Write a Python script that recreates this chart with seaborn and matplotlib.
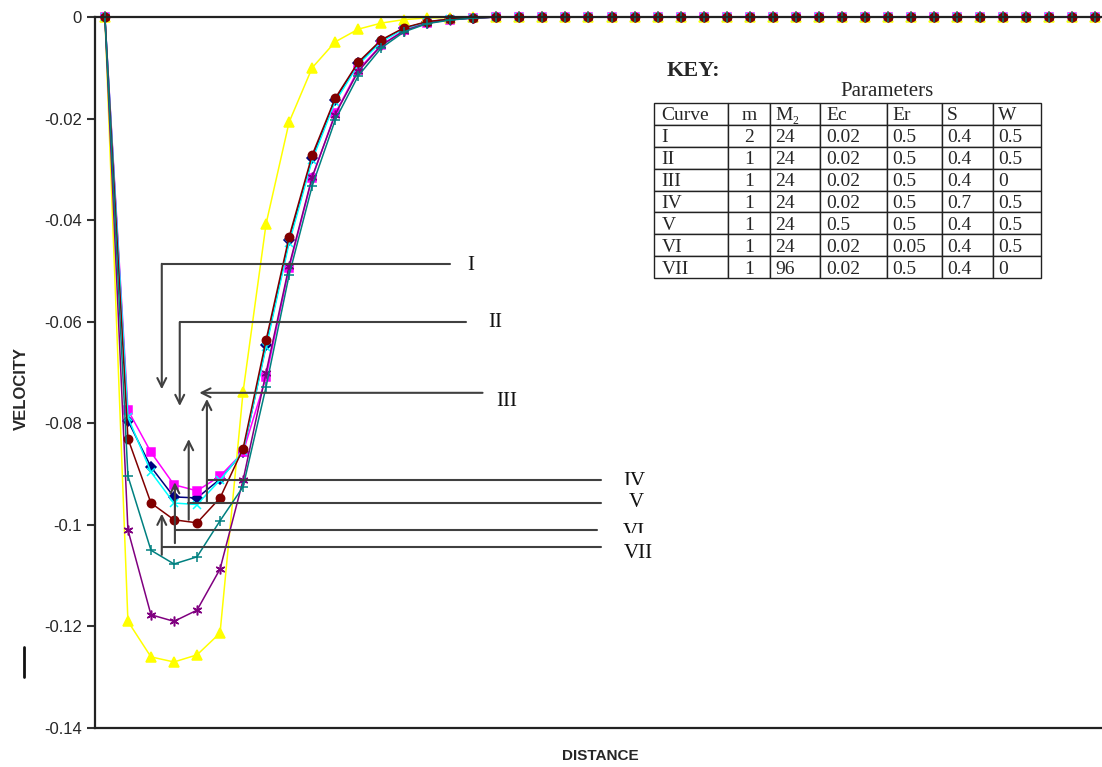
import numpy as np
import pandas as pd
import seaborn as sns
import matplotlib.pyplot as plt
from matplotlib.lines import Line2D
from matplotlib.patches import Rectangle

# velocity profiles (one value per distance step)
vel_navy = [0, -0.0795, -0.0886, -0.0945, -0.0947, -0.0910, -0.0857, -0.0646, -0.0439, -0.0278,
            -0.0163, -0.0091, -0.0047, -0.0022, -0.0010, -0.0004, -0.0002, 0, 0, 0,
            0, 0, 0, 0, 0, 0, 0, 0, 0, 0, 0, 0, 0, 0, 0, 0, 0, 0, 0, 0, 0, 0, 0, 0]
vel_magenta = [0, -0.0774, -0.0857, -0.0921, -0.0933, -0.0904, -0.0857, -0.0709, -0.0494, -0.0317,
               -0.0190, -0.0104, -0.0055, -0.0026, -0.0012, -0.0005, -0.0002, 0, 0, 0,
               0, 0, 0, 0, 0, 0, 0, 0, 0, 0, 0, 0, 0, 0, 0, 0, 0, 0, 0, 0, 0, 0, 0, 0]
vel_yellow = [0, -0.1190, -0.1260, -0.1270, -0.1256, -0.1213, -0.0738, -0.0407, -0.0207, -0.0100,
              -0.0049, -0.0024, -0.0012, -0.0005, -0.0002, -0.0001, 0, 0, 0, 0,
              0, 0, 0, 0, 0, 0, 0, 0, 0, 0, 0, 0, 0, 0, 0, 0, 0, 0, 0, 0, 0, 0, 0, 0]
vel_cyan = [0, -0.0788, -0.0896, -0.0957, -0.0960, -0.0912, -0.0855, -0.0650, -0.0445, -0.0282,
            -0.0167, -0.0094, -0.0049, -0.0023, -0.0010, -0.0004, -0.0002, 0, 0, 0,
            0, 0, 0, 0, 0, 0, 0, 0, 0, 0, 0, 0, 0, 0, 0, 0, 0, 0, 0, 0, 0, 0, 0, 0]
vel_purple = [0, -0.1010, -0.1177, -0.1190, -0.1168, -0.1087, -0.0912, -0.0700, -0.0490, -0.0315,
              -0.0192, -0.0107, -0.0056, -0.0027, -0.0012, -0.0005, -0.0002, 0, 0, 0,
              0, 0, 0, 0, 0, 0, 0, 0, 0, 0, 0, 0, 0, 0, 0, 0, 0, 0, 0, 0, 0, 0, 0, 0]
vel_darkred = [0, -0.0830, -0.0957, -0.0990, -0.0996, -0.0947, -0.0850, -0.0636, -0.0433, -0.0272,
               -0.0160, -0.0089, -0.0045, -0.0021, -0.0009, -0.0004, -0.0002, 0, 0, 0,
               0, 0, 0, 0, 0, 0, 0, 0, 0, 0, 0, 0, 0, 0, 0, 0, 0, 0, 0, 0, 0, 0, 0, 0]
vel_teal = [0, -0.0904, -0.1050, -0.1077, -0.1063, -0.0992, -0.0925, -0.0728, -0.0508, -0.0333,
            -0.0203, -0.0116, -0.0061, -0.0029, -0.0013, -0.0006, -0.0002, 0, 0, 0,
            0, 0, 0, 0, 0, 0, 0, 0, 0, 0, 0, 0, 0, 0, 0, 0, 0, 0, 0, 0, 0, 0, 0, 0]
distance = np.arange(len(vel_navy))

y_ticks = [0, -0.02, -0.04, -0.06, -0.08, -0.1, -0.12, -0.14]
y_ticklabels = ['0', '-0.02', '-0.04', '-0.06', '-0.08', '-0.1', '-0.12', '-0.14']

curve_names = ['I', 'II', 'III', 'IV', 'V', 'VI', 'VII']
key_columns = ['Curve', 'm', 'M\u2082', 'Ec', 'Er', 'S', 'W']
key_m = ['2', '1', '1', '1', '1', '1', '1']
key_M2 = ['24', '24', '24', '24', '24', '24', '96']
key_Ec = ['0.02', '0.02', '0.02', '0.02', '0.5', '0.02', '0.02']
key_Er = ['0.5', '0.5', '0.5', '0.5', '0.5', '0.05', '0.5']
key_S = ['0.4', '0.4', '0.4', '0.7', '0.4', '0.4', '0.4']
key_W = ['0.5', '0.5', '0', '0.5', '0.5', '0.5', '0']

# ====
# plot
# ====

sns.set_theme(style='ticks')
plt.rcParams['font.family'] = ['Liberation Sans', 'DejaVu Sans']
serif = ['Liberation Serif', 'DejaVu Serif']

fig = plt.figure(figsize=(11.02, 7.67), dpi=100)
ax = fig.add_axes([95 / 1102, 1 - 728 / 767, 1007 / 1102, 711 / 767])

series = [
    (vel_navy, '#000080', 'D', 5.5),
    (vel_magenta, '#FF00FF', 's', 6),
    (vel_yellow, '#FFFF00', '^', 7),
    (vel_cyan, '#00FFFF', 'x', 6),
    (vel_purple, '#800080', (6, 2, 0), 7),
    (vel_darkred, '#800000', 'o', 6),
    (vel_teal, '#008080', '+', 7),
]
for vals, col, mk, ms in series:
    sns.lineplot(x=distance, y=vals, color=col, marker=mk, markersize=ms,
                 markeredgecolor=col, markerfacecolor=col, markeredgewidth=1.1,
                 linewidth=1.1, clip_on=False, ax=ax)

ax.set_xlim(-0.43, 43.3)
ax.set_ylim(-0.14, 0)
ax.set_yticks(y_ticks)
ax.set_yticklabels(y_ticklabels)
ax.set_xticks([])
ax.tick_params(axis='y', length=6, width=1.5, labelsize=12, color='#333333')
for side in ['top', 'bottom', 'left']:
    ax.spines[side].set_linewidth(1.6)
    ax.spines[side].set_color('#222222')
ax.spines['right'].set_visible(False)

ax.set_ylabel('VELOCITY', fontsize=12, fontweight='bold')
ax.yaxis.set_label_coords(-0.066, 0.478)
ax.set_xlabel('DISTANCE', fontsize=11, fontweight='bold')
ax.xaxis.set_label_coords(0.5015, -0.029)

# curve call-outs
arrow_kw = dict(arrowstyle='->', color='#404040', lw=1.5, mutation_scale=16,
                shrinkA=0, shrinkB=0)
line_kw = dict(color='#404040', lw=1.5)
lab_kw = dict(fontsize=15, family=serif, va='center', ha='left', color='#111111')

# I
ax.plot([2.47, 14.97], [-0.0486, -0.0486], **line_kw)
ax.annotate('', xy=(2.47, -0.0733), xytext=(2.47, -0.0486), arrowprops=arrow_kw)
ax.text(15.75, -0.0490, curve_names[0], **lab_kw)
# II
ax.plot([3.25, 15.7], [-0.0601, -0.0601], **line_kw)
ax.annotate('', xy=(3.25, -0.0766), xytext=(3.25, -0.0601), arrowprops=arrow_kw)
ax.text(16.65, -0.0602, curve_names[1], **lab_kw)
# III
ax.annotate('', xy=(4.1, -0.0740), xytext=(16.4, -0.0740), arrowprops=arrow_kw)
ax.text(17.0, -0.0758, curve_names[2], **lab_kw)
# IV
ax.plot([4.43, 21.56], [-0.0912, -0.0912], **line_kw)
ax.annotate('', xy=(4.43, -0.0752), xytext=(4.43, -0.0956), arrowprops=arrow_kw)
# V
ax.plot([3.6, 21.56], [-0.0957, -0.0957], **line_kw)
ax.annotate('', xy=(3.64, -0.0831), xytext=(3.64, -0.0990), arrowprops=arrow_kw)
ax.text(22.75, -0.0955, curve_names[4], **lab_kw)
# VI
ax.plot([3.04, 21.35], [-0.1010, -0.1010], **line_kw)
ax.annotate('', xy=(3.04, -0.0916), xytext=(3.04, -0.1036), arrowprops=arrow_kw)
# VII
ax.plot([2.47, 21.56], [-0.1044, -0.1044], **line_kw)
ax.annotate('', xy=(2.47, -0.0978), xytext=(2.47, -0.1059), arrowprops=arrow_kw)
ax.text(22.55, -0.1057, curve_names[6], **lab_kw)

# IV and VI labels show only their upper part
t4 = ax.text(22.5, -0.0914, curve_names[3], clip_on=True, **lab_kw)
t4.set_clip_path(Rectangle((21.5, -0.0921), 3, 0.006, transform=ax.transData))
t6 = ax.text(22.5, -0.1016, curve_names[5], clip_on=True, **lab_kw)
t6.set_clip_path(Rectangle((21.5, -0.1017), 3, 0.006, transform=ax.transData))

# key table
fig.text(667 / 1102, 1 - 71 / 767, 'KEY:', fontsize=16, fontweight='bold',
         family=serif, va='center', ha='left')
fig.text(887 / 1102, 1 - 91 / 767, 'Parameters', fontsize=15,
         family=serif, va='center', ha='center')
cells = [[curve_names[i], key_m[i], key_M2[i], key_Ec[i], key_Er[i], key_S[i], key_W[i]]
         for i in range(len(curve_names))]
col_px = [74, 42, 50, 67, 55, 51, 48]
tbl = ax.table(cellText=cells, colLabels=key_columns, cellLoc='left', colLoc='left',
               colWidths=[w / sum(col_px) for w in col_px],
               bbox=[(654 - 95) / 1007, 1 - (278 - 17) / 711,
                     387 / 1007, (278 - 103) / 711])
tbl.auto_set_font_size(False)
for (r, c), cell in tbl.get_celld().items():
    cell.set_edgecolor('#222222')
    cell.set_linewidth(1.0)
    cell.PAD = 0.1
    txt = cell.get_text()
    txt.set_fontsize(14)
    txt.set_family(serif)
    txt.set_va('center_baseline')
    cell.set_facecolor('white')
    if c == 1:
        txt.set_ha('center')

# stray mark at the left edge
fig.add_artist(Line2D([24 / 1102, 24 / 1102], [1 - 647 / 767, 1 - 677 / 767],
                      color='#111111', lw=2.0))

fig.savefig('out.png', dpi=100)
